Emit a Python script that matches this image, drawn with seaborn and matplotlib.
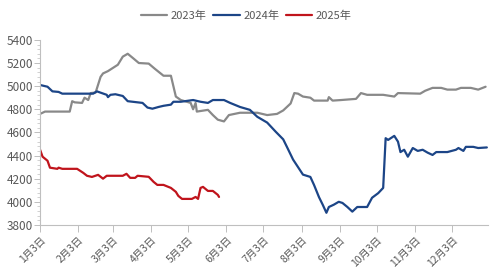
import matplotlib
matplotlib.use("Agg")
import matplotlib.pyplot as plt
from matplotlib.ticker import MultipleLocator
import pandas as pd
import seaborn as sns

# ---- data ----
dates_2023 = ["01-03","01-07","01-27","01-29","01-31","02-06","02-08","02-11","02-13","02-17",
              "02-21","02-23","02-27","03-07","03-11","03-15","03-19","03-24","04-01","04-06",
              "04-13","04-19","04-23","04-27","05-05","05-07","05-09","05-10","05-19","05-23",
              "05-27","06-01","06-05","06-14","06-28","07-06","07-14","07-19","07-25","07-28",
              "07-31","08-04","08-10","08-13","08-24","08-25","08-28","09-04","09-16","09-20",
              "09-25","10-08","10-17","10-20","11-07","11-11","11-17","11-24","11-29","12-06",
              "12-10","12-18","12-24","12-30"]
values_2023 = [4760,4780,4780,4870,4860,4855,4900,4880,4940,4945,
               5080,5110,5130,5185,5255,5280,5245,5200,5195,5150,
               5090,5090,4910,4880,4855,4800,4855,4780,4795,4750,
               4710,4695,4750,4770,4770,4750,4760,4790,4850,4940,
               4935,4910,4900,4875,4875,4905,4875,4880,4890,4940,
               4925,4925,4910,4940,4935,4960,4985,4985,4970,4970,
               4985,4985,4970,4995]

dates_2024 = ["01-03","01-09","01-13","01-18","01-21","02-15","02-18","02-22","02-26","02-27",
              "03-01","03-05","03-11","03-15","03-27","03-31","04-04","04-09","04-13","04-19",
              "04-21","04-27","05-07","05-13","05-19","05-23","06-01","06-06","06-14","06-22",
              "06-28","07-06","07-13","07-19","07-22","07-27","07-31","08-04","08-10","08-13",
              "08-17","08-20","08-23","08-25","08-29","09-02","09-05","09-09","09-13","09-17",
              "09-25","09-29","10-04","10-08","10-10","10-12","10-17","10-20","10-22","10-25",
              "10-28","11-01","11-05","11-09","11-13","11-17","11-20","11-29","12-06","12-08",
              "12-12","12-14","12-20","12-24","12-31"]
values_2024 = [5010,4995,4955,4950,4935,4935,4955,4940,4925,4905,
               4925,4930,4915,4870,4855,4815,4805,4820,4830,4840,
               4865,4865,4880,4865,4855,4880,4880,4855,4820,4795,
               4735,4685,4605,4540,4475,4365,4300,4235,4215,4145,
               4040,3975,3905,3955,3975,4000,3990,3955,3915,3955,
               3955,4035,4075,4120,4550,4535,4570,4520,4430,4450,
               4390,4465,4440,4450,4425,4405,4430,4430,4450,4465,
               4440,4475,4475,4465,4470]

dates_2025 = ["01-03","01-05","01-09","01-11","01-17","01-18","01-21","02-02","02-07","02-10",
              "02-14","02-19","02-23","02-26","03-11","03-14","03-17","03-21","03-23","04-01",
              "04-05","04-08","04-13","04-19","04-23","04-25","04-28","05-06","05-09","05-11",
              "05-13","05-15","05-19","05-23","05-27","05-28"]
values_2025 = [4450,4390,4355,4295,4285,4295,4285,4285,4250,4225,
               4215,4233,4200,4225,4225,4242,4207,4207,4225,4216,
               4172,4146,4146,4120,4086,4051,4025,4025,4042,4025,
               4120,4129,4094,4094,4060,4042]

series_names = ["2023年", "2024年", "2025年"]
tick_dates = ["01-03","02-03","03-03","04-03","05-03","06-03","07-03","08-03","09-03","10-03","11-03","12-03"]
tick_labels = ["1月3日","2月3日","3月3日","4月3日","5月3日","6月3日","7月3日","8月3日","9月3日","10月3日","11月3日","12月3日"]

colors = {"2023年": "#898989", "2024年": "#1c4587", "2025年": "#c0141c"}

frames = []
for name, d, v in zip(series_names, [dates_2023, dates_2024, dates_2025],
                      [values_2023, values_2024, values_2025]):
    frames.append(pd.DataFrame({"date": pd.to_datetime(["2023-" + s for s in d]),
                                "value": v, "year": name}))
df = pd.concat(frames, ignore_index=True)

sns.set_theme(style="white")
plt.rcParams["font.family"] = ["Noto Sans CJK SC", "DejaVu Sans"]

fig = plt.figure(figsize=(4.95, 2.77), dpi=100)
ax = fig.add_axes([0.081, 0.188, 0.905, 0.668])

sns.lineplot(data=df, x="date", y="value", hue="year", palette=colors,
             hue_order=series_names, linewidth=1.6, ax=ax, estimator=None,
             sort=True, legend=True)

ax.set_xlim(pd.Timestamp("2023-01-03"), pd.Timestamp("2024-01-01"))
ax.set_ylim(3800, 5400)
ax.yaxis.set_major_locator(MultipleLocator(200))
ax.yaxis.set_minor_locator(MultipleLocator(40))
ax.set_xticks(pd.to_datetime(["2023-" + s for s in tick_dates]))
ax.set_xticklabels(tick_labels, rotation=45, ha="right", rotation_mode="anchor")

ax.set_xlabel("")
ax.set_ylabel("")
for s in ["top", "right"]:
    ax.spines[s].set_visible(False)
for s in ["left", "bottom"]:
    ax.spines[s].set_color("#bfbfbf")
    ax.spines[s].set_linewidth(0.8)

ax.tick_params(axis="y", which="major", direction="out", length=4, width=0.7,
               color="#bfbfbf", labelsize=8.5, labelcolor="#595959", pad=1, left=True)
ax.tick_params(axis="y", which="minor", direction="out", length=2, width=0.5,
               color="#bfbfbf", left=True)
ax.tick_params(axis="x", which="major", direction="out", length=5, width=0.7,
               color="#bfbfbf", labelsize=7.5, labelcolor="#595959", pad=2, bottom=True)

leg = ax.legend(loc="center", bbox_to_anchor=(0.46, 1.13), ncol=3,
                frameon=False, fontsize=8, handlelength=2.4, handletextpad=0.3,
                columnspacing=0.6, labelcolor="#595959", borderpad=0.1)
for line in leg.get_lines():
    line.set_linewidth(1.6)

fig.savefig("out.png", dpi=100)
